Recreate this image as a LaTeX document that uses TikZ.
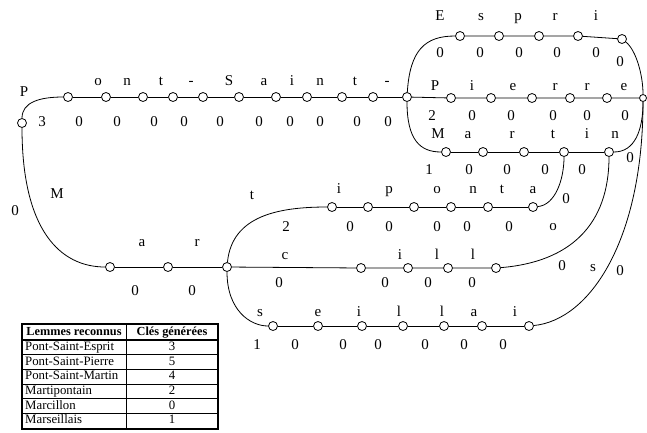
\documentclass[tikz,border=0pt]{standalone}
\usepackage{fontspec}
\setmainfont{Liberation Serif}
\usetikzlibrary{positioning}

\tikzset{
  state/.style={circle,draw,fill=white,line width=0.8pt,minimum size=9pt,inner sep=0pt},
  final/.style={state,minimum size=7pt},
  arc/.style={line width=0.8pt},
  lab/.style={inner sep=0pt,text height=7pt,text depth=0pt,font=\fontsize{15}{15}\selectfont},
  cell/.style={inner sep=0pt,text height=8pt,text depth=2pt,font=\fontsize{12.8}{12.8}\selectfont},
  head/.style={cell,font=\fontsize{12.3}{12.3}\selectfont\bfseries},
}

\begin{document}
\begin{tikzpicture}[x=1pt,y=-1pt]
  \useasboundingbox (0,0) rectangle (647,432);
  % states
  \node[state] (q0) at (22,123) {};
  \foreach \x [count=\i] in {68,106,143,173,203,239,276,307,342,373}
    \node[state] (p\i) at (\x,97) {};
  \node[state] (j) at (407,97) {};
  \foreach \x/\y [count=\i] in {460/36,499/36,539/36,578/36,622/39}
    \node[state] (e\i) at (\x,\y) {};
  \foreach \x [count=\i] in {451,491,532,570,607}
    \node[state] (r\i) at (\x,98) {};
  \node[final] (fin) at (643,98) {};
  \foreach \x [count=\i] in {446,483,524,564,609}
    \node[state] (m\i) at (\x,152) {};
  \foreach \x [count=\i] in {110,168,227}
    \node[state] (b\i) at (\x,267) {};
  \foreach \x [count=\i] in {332,368,414,451,488,533}
    \node[state] (t\i) at (\x,207) {};
  \foreach \x [count=\i] in {361,408,448,496}
    \node[state] (c\i) at (\x,268) {};
  \foreach \x [count=\i] in {273,318,362,403,444,482,529}
    \node[state] (s\i) at (\x,326) {};

  % transitions
  \draw[arc] (q0) .. controls (22,102) and (40,97) .. (p1);
  \draw[arc] (p1) -- (p2) -- (p3) -- (p4) -- (p5) -- (p6) -- (p7) -- (p8) -- (p9) -- (p10) -- (j);
  \draw[arc] (j) .. controls (410,50) and (425,36) .. (e1);
  \draw[arc] (e1) -- (e2) -- (e3) -- (e4) -- (e5);
  \draw[arc] (e5) .. controls (636,50) and (643,75) .. (fin);
  \draw[arc] (j) -- (r1) -- (r2) -- (r3) -- (r4) -- (r5) -- (fin);
  \draw[arc] (j) .. controls (407,140) and (420,152) .. (m1);
  \draw[arc] (m1) -- (m2) -- (m3) -- (m4) -- (m5);
  \draw[arc] (m5) .. controls (635,152) and (643,130) .. (fin);
  \draw[arc] (q0) .. controls (22,230) and (60,267) .. (b1);
  \draw[arc] (b1) -- (b2) -- (b3);
  \draw[arc] (b3) .. controls (232,215) and (280,207) .. (t1);
  \draw[arc] (t1) -- (t2) -- (t3) -- (t4) -- (t5) -- (t6);
  \draw[arc] (t6) .. controls (555,205) and (564,180) .. (m4);
  \draw[arc] (b3) -- (c1) -- (c2) -- (c3) -- (c4);
  \draw[arc] (c4) .. controls (570,262) and (609,225) .. (m5);
  \draw[arc] (b3) .. controls (227,310) and (250,326) .. (s1);
  \draw[arc] (s1) -- (s2) -- (s3) -- (s4) -- (s5) -- (s6) -- (s7);
  \draw[arc] (s7) .. controls (590,320) and (643,240) .. (fin);

  % letters and key counts
  \node[lab] (lP) at (24,93) {P};
  \foreach \x/\lab [count=\i] in {98/o,127/n,161/t,191/-,229/S,264/a,292/i,320/n,355/t,387/-}
    \node[lab] (lp\i) at (\x,82) {\lab};
  \foreach \x/\lab [count=\i] in {42/3,79/0,117/0,154/0,184/0,220/0,259/0,290/0,320/0,357/0,388/0}
    \node[lab] (np\i) at (\x,123) {\lab};
  \foreach \x/\lab [count=\i] in {440/E,481/s,518/p,555/r,596/i}
    \node[lab] (le\i) at (\x,17) {\lab};
  \foreach \x [count=\i] in {440,480,519,557,596}
    \node[lab] (ne\i) at (\x,54) {0};
  \node[lab] (ne6) at (620,63) {0};
  \foreach \x/\lab [count=\i] in {435/P,472/i,513/e,555/r,587/r,624/e}
    \node[lab] (lr\i) at (\x,87) {\lab};
  \foreach \x/\lab [count=\i] in {432/2,472/0,511/0,553/0,587/0,625/0}
    \node[lab] (nr\i) at (\x,117) {\lab};
  \foreach \x/\lab [count=\i] in {438/M,468/a,512/r,553/t,587/i,615/n}
    \node[lab] (lm\i) at (\x,135) {\lab};
  \foreach \x/\lab [count=\i] in {429/1,469/0,507/0,545/0,582/0}
    \node[lab] (nm\i) at (\x,171) {\lab};
  \node[lab] (nm6) at (630,159) {0};
  \node[lab] (lb1) at (57,195) {M};
  \node[lab] (nb1) at (15,212) {0};
  \node[lab] (lb2) at (142,243) {a};
  \node[lab] (lb3) at (197,243) {r};
  \node[lab] (nb2) at (135,292) {0};
  \node[lab] (nb3) at (192,292) {0};
  \node[lab] (lt0) at (252,196) {t};
  \foreach \x/\lab [count=\i] in {339/i,389/p,437/o,473/n,502/t,533/a}
    \node[lab] (lt\i) at (\x,190) {\lab};
  \node[lab] (nt0) at (286,228) {2};
  \foreach \x [count=\i] in {350,389,437,467,509}
    \node[lab] (nt\i) at (\x,228) {0};
  \node[lab] (nt6) at (566,200) {0};
  \node[lab] (lc0) at (285,256) {c};
  \foreach \x/\lab [count=\i] in {400/i,437/l,473/l}
    \node[lab] (lc\i) at (\x,256) {\lab};
  \foreach \x [count=\i] in {279,385,428,472}
    \node[lab] (nc\i) at (\x,284) {0};
  \node[lab] (lc4) at (553,227) {o};
  \node[lab] (nc5) at (562,267) {0};
  \foreach \x/\lab [count=\i] in {260/s,318/e,359/i,399/l,442/l,474/a,515/i}
    \node[lab] (ls\i) at (\x,313) {\lab};
  \foreach \x/\lab [count=\i] in {257/1,295/0,343/0,378/0,425/0,464/0,503/0}
    \node[lab] (ns\i) at (\x,346) {\lab};
  \node[lab] (ls8) at (593,268) {s};
  \node[lab] (ns8) at (620,272) {0};

  % table
  \draw[line width=1.2pt] (22,324) rectangle (218,429);
  \draw[line width=1.2pt] (22,340) -- (218,340);
  \draw[line width=0.6pt] (126,324) -- (126,429);
  \foreach \y in {354.7,369.3,384,398.7,413.3}
    \draw[line width=0.5pt] (22,\y) -- (218,\y);
  \node[head] (h1) at (74,332) {Lemmes reconnus};
  \node[head] (h2) at (172,332) {Clés générées};
  \foreach \name/\k [count=\i] in {Pont-Saint-Esprit/3,Pont-Saint-Pierre/5,Pont-Saint-Martin/4,Martipontain/2,Marcillon/0,Marseillais/1} {
    \node[cell,anchor=west] (w\i) at (25,{332.7+14.67*\i}) {\name};
    \node[cell] (k\i) at (172,{332.7+14.67*\i}) {\k};
  }
\end{tikzpicture}
\end{document}
